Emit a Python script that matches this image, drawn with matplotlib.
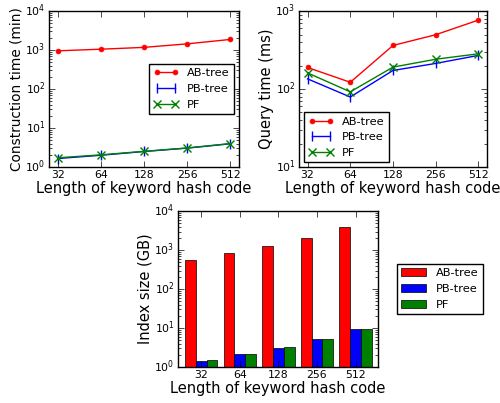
import numpy as np
import matplotlib
matplotlib.use('Agg')
import matplotlib.pyplot as plt

plt.style.use('classic')
plt.rcParams['figure.facecolor'] = 'white'
plt.rcParams['savefig.facecolor'] = 'white'

codes = ['32', '64', '128', '256', '512']

build_ab = [955, 1050, 1170, 1440, 1870]
build_pb = [1.65, 2.0, 2.5, 3.05, 3.95]
build_pf = [1.72, 2.05, 2.52, 3.08, 3.98]

query_ab = [189, 122, 362, 497, 766]
query_pb = [135, 79, 173, 213, 270]
query_pf = [161, 92, 191, 241, 283]

size_ab = [543, 836, 1260, 2070, 3890]
size_pb = [1.43, 2.11, 3.13, 5.1, 9.25]
size_pf = [1.48, 2.2, 3.26, 5.3, 9.4]

tick_fs = 7.8
label_fs = 10.5
legend_fs = 8.2

x = np.arange(len(codes))

fig = plt.figure(figsize=(5.0, 4.03), dpi=100)


def line_panel(rect, ab, pb, pf, ylim, ylabel, yfs, loc):
    ax = fig.add_axes(rect)
    ax.plot(x, ab, 'r-', marker='o', ms=3.5, mec='r', label='AB-tree')
    ax.plot(x, pb, 'b-', marker='|', ms=7, mew=1.0, label='PB-tree')
    ax.plot(x, pf, 'g-', marker='x', ms=6, mew=1.0, label='PF')
    ax.set_yscale('log')
    ax.set_ylim(*ylim)
    ax.set_xlim(-0.2, 4.2)
    ax.set_xticks(x)
    ax.set_xticklabels(codes)
    ax.set_xlabel('Length of keyword hash code', fontsize=label_fs, labelpad=0.5)
    ax.set_ylabel(ylabel, fontsize=yfs, labelpad=1)
    ax.tick_params(labelsize=tick_fs, pad=2.5)
    ax.legend(loc=loc, fontsize=legend_fs, borderaxespad=0.4, handlelength=2.2)
    return ax


line_panel([0.098, 0.5856, 0.38, 0.387], build_ab, build_pb, build_pf,
           (1, 1e4), 'Construction time (min)', 9.8, 'center right')
line_panel([0.598, 0.5856, 0.376, 0.387], query_ab, query_pb, query_pf,
           (10, 1000), 'Query time (ms)', label_fs, 'lower left')

ax3 = fig.add_axes([0.356, 0.0893, 0.40, 0.3867])
w = 0.28
ax3.bar(x - w, size_ab, w, color='r', edgecolor='k', linewidth=0.5, label='AB-tree')
ax3.bar(x, size_pb, w, color='b', edgecolor='k', linewidth=0.5, label='PB-tree')
ax3.bar(x + w, size_pf, w, color='g', edgecolor='k', linewidth=0.5, label='PF')
ax3.set_yscale('log')
ax3.set_ylim(1, 1e4)
ax3.set_xlim(-0.6, 4.58)
ax3.set_xticks(x)
ax3.set_xticklabels(codes)
ax3.set_xlabel('Length of keyword hash code', fontsize=label_fs, labelpad=0.5)
ax3.set_ylabel('Index size (GB)', fontsize=label_fs, labelpad=1)
ax3.tick_params(labelsize=tick_fs, pad=2.5)
ax3.legend(loc='center left', bbox_to_anchor=(1.065, 0.5), fontsize=legend_fs,
           handlelength=2.2)

fig.savefig('out.png', dpi=100)
